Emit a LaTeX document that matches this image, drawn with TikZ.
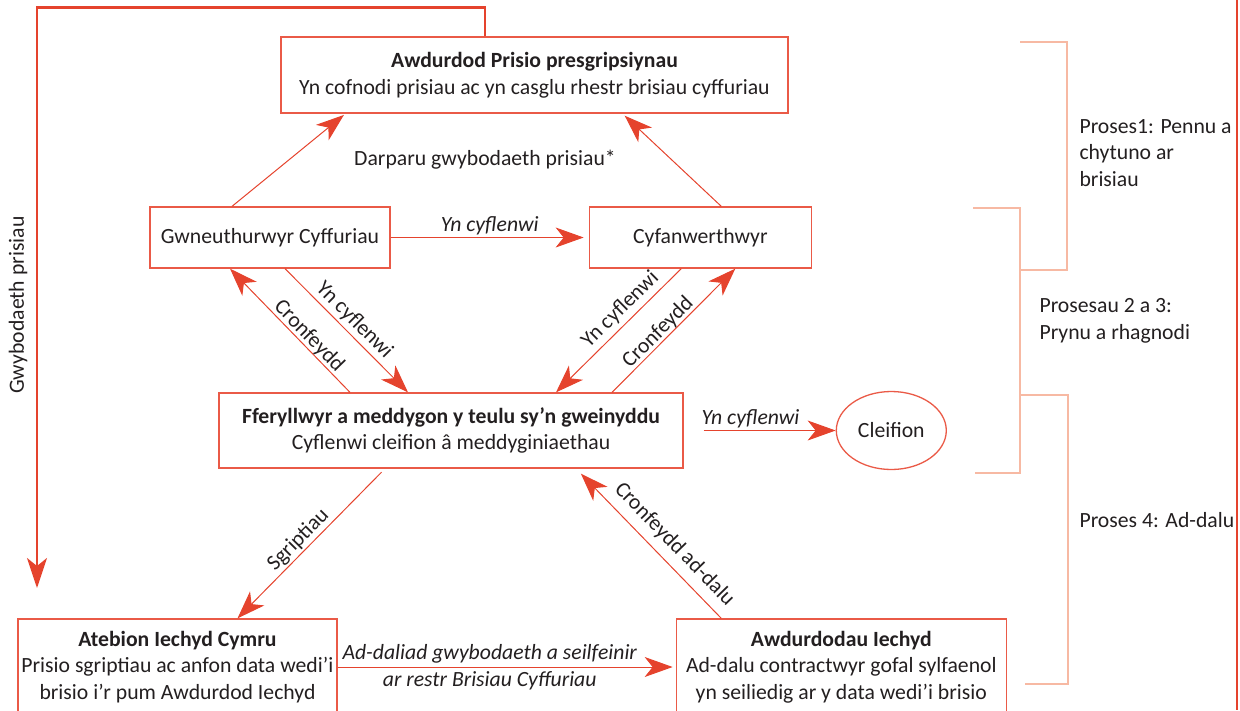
\documentclass[tikz,border=0pt]{standalone}
\usepackage{fontspec}
\setmainfont{Carlito}
\usetikzlibrary{arrows.meta, positioning, shapes.geometric}
\definecolor{LineRed}{RGB}{229,67,45}
\definecolor{BoxRed}{RGB}{234,90,71}
\definecolor{BracketPink}{RGB}{247,185,163}
\definecolor{TextGray}{RGB}{35,31,32}

\begin{document}
\begin{tikzpicture}[
  x=1pt, y=-1pt,
  font=\fontsize{21.7}{26.5}\selectfont, text=TextGray,
  box/.style={draw=BoxRed, line width=1.3pt, align=center, inner sep=0pt},
  arr/.style={-{Stealth[length=28pt, width=20pt, inset=8pt]}, draw=LineRed, line width=1pt},
  fbarr/.style={-{Stealth[length=30pt, width=20pt, inset=8pt]}, draw=LineRed, line width=2.5pt},
  brk/.style={draw=BracketPink, line width=1.5pt},
  sl/.style={sloped, inner sep=2pt},
  lbli/.style={font=\fontsize{21.7}{26.5}\selectfont\itshape, inner sep=2pt}
]
  \useasboundingbox (0,0) rectangle (1240,710);

  \node[box, minimum width=507pt, minimum height=76pt] (prisio) at (534.5,75)
    {\textbf{Awdurdod Prisio presgripsiynau}\\Yn cofnodi prisiau ac yn casglu rhestr brisiau cyffuriau};
  \node (darparu) at (485,160) {Darparu gwybodaeth prisiau*};
  \node[box, minimum width=240pt, minimum height=61pt] (gwn) at (270,237.5) {Gwneuthurwyr Cyffuriau};
  \node[box, minimum width=222pt, minimum height=61pt, right=198pt of gwn] (cyfan) {Cyfanwerthwyr};
  \node[box, minimum width=464pt, minimum height=75pt] (fferyll) at (451,430.5)
    {\textbf{Fferyllwyr a meddygon y teulu sy'n gweinyddu}\\Cyflenwi cleifion â meddyginiaethau};
  \node[ellipse, draw=BoxRed, line width=1.3pt, minimum width=110pt, minimum height=78pt, inner sep=0pt,
    right=152pt of fferyll] (cleifion) {Cleifion};
  \node[box, minimum width=319pt, minimum height=96pt] (atebion) at (177.5,667)
    {\textbf{Atebion Iechyd Cymru}\\Prisio sgriptiau ac anfon data wedi'i\\brisio i'r pum Awdurdod Iechyd};
  \node[box, minimum width=330pt, minimum height=96pt, right=338pt of atebion] (awd)
    {\textbf{Awdurdodau Iechyd}\\Ad-dalu contractwyr gofal sylfaenol\\yn seiliedig ar y data wedi'i brisio};

  % price information flows back to the top
  \coordinate (fbend) at (37,588);
  \draw[fbarr] ([xshift=-49.5pt]prisio.north) -- ++(0,-29) -| (fbend);
  \node[rotate=90] (gwyb) at (18,305) {Gwybodaeth prisiau};

  \draw[arr, shorten >=2pt] ([xshift=-38pt]gwn.north) -- ([xshift=-189pt]prisio.south);
  \draw[arr, shorten >=3pt] ([xshift=21pt]cyfan.north) -- ([xshift=88pt]prisio.south);
  \draw[arr, shorten >=5pt] (gwn) -- node[lbli, above=0pt] {Yn cyflenwi} (cyfan);
  \draw[arr] ([xshift=15pt]gwn.south) -- node[sl, pos=.49, above=1pt] {Yn cyflenwi} ([xshift=-43pt]fferyll.north);
  \draw[arr] ([xshift=-101pt]fferyll.north) -- node[sl, pos=.4, above=-2pt] {Cronfeydd} ([xshift=-40pt]gwn.south);
  \draw[arr] ([xshift=-19pt]cyfan.south) -- node[sl, pos=.41, above=2pt] {Yn cyflenwi} ([xshift=105pt]fferyll.north);
  \draw[arr] ([xshift=161pt]fferyll.north) -- node[sl, pos=.43, above=-2pt] {Cronfeydd} ([xshift=35pt]cyfan.south);
  \draw[arr, shorten <=20pt] (fferyll) -- node[lbli, pos=.44, above=0pt] {Yn cyflenwi} (cleifion);
  \draw[arr, shorten <=5pt] ([xshift=-66pt]fferyll.south) -- node[sl, pos=.53, above=0pt] {Sgriptiau} ([xshift=60pt]atebion.north);
  \draw[arr, shorten >=7pt] ([xshift=-120pt]awd.north) -- node[sl, pos=.41, above=6pt] {Cronfeydd ad-dalu} ([xshift=125pt]fferyll.south);
  \draw[arr, shorten >=3pt] (atebion) -- node[lbli, pos=.45, align=center] {Ad-daliad gwybodaeth a seilfeinir\\ar restr Brisiau Cyffuriau} (awd);

  % process brackets
  \draw[brk] (1020,42) -| (1067,270) -- (1020,270);
  \draw[brk] (973,208) -| (1020,473) -- (975,473);
  \draw[brk] (1020,395) -| (1068,684) -- (1025,684);
  \node[anchor=west, align=left] (p1) at (1076,153) {Proses1: Pennu a\\chytuno ar\\brisiau};
  \node[anchor=west, align=left] (p23) at (1036,321) {Prosesau 2 a 3:\\Prynu a rhagnodi};
  \node[anchor=west] (p4) at (1076,520) {Proses 4: Ad-dalu};

  \draw[draw=LineRed, line width=2pt] (1237,0) -- (1237,710);
\end{tikzpicture}
\end{document}
